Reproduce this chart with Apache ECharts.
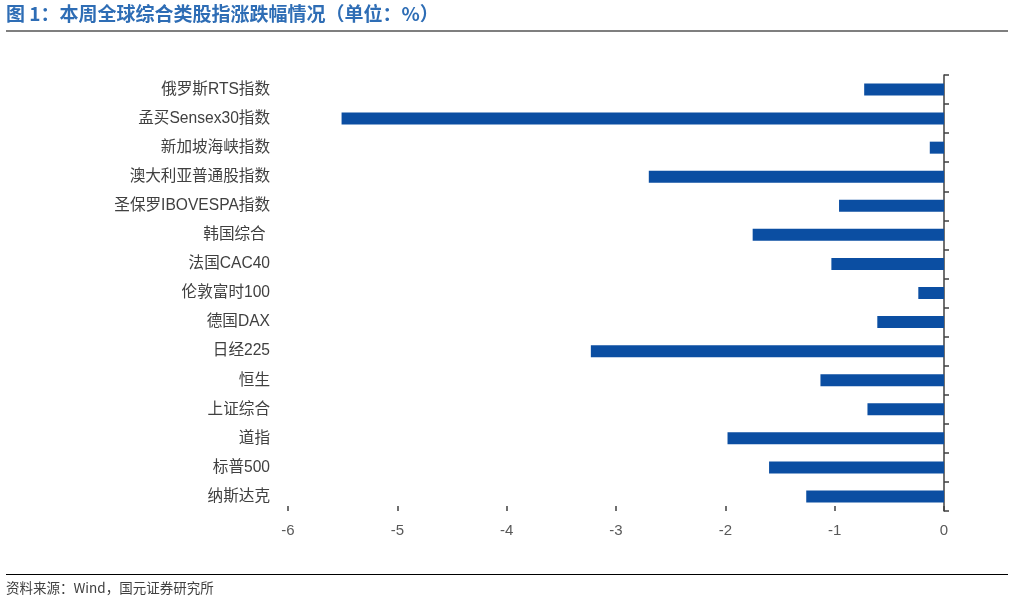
<!DOCTYPE html>
<html><head><meta charset="utf-8">
<script src="https://cdn.jsdelivr.net/npm/echarts@6/dist/echarts.min.js"></script>
<style>html,body{margin:0;padding:0;background:#fff}#c{width:1014px;height:603px}</style>
</head><body><div id="c"></div>
<script>
const categories = ['俄罗斯RTS指数','孟买Sensex30指数','新加坡海峡指数','澳大利亚普通股指数','圣保罗IBOVESPA指数','韩国综合 ','法国CAC40','伦敦富时100','德国DAX','日经225','恒生','上证综合','道指','标普500','纳斯达克'];
const values = [-0.73,-5.51,-0.13,-2.70,-0.96,-1.75,-1.03,-0.235,-0.61,-3.23,-1.13,-0.70,-1.98,-1.60,-1.26];
const xTicks = [-6,-5,-4,-3,-2,-1,0];
const titleText = '图 1：本周全球综合类股指涨跌幅情况（单位：%）';
const sourceText = '资料来源：Wind，国元证券研究所';

const chart = echarts.init(document.getElementById('c'));
const font = '"Liberation Sans", "Noto Sans CJK SC", sans-serif';
chart.setOption({
  animation: false,
  backgroundColor: '#fff',
  grid: {left: 288, right: 70, top: 75, bottom: 92},
  xAxis: {
    type: 'value', min: xTicks[0], max: xTicks[xTicks.length-1], interval: 1,
    axisLine: {onZero: false, lineStyle: {color: '#404040', width: 1.5}},
    axisTick: {show: true, inside: true, length: 5, lineStyle: {color: '#404040', width: 1.5}},
    splitLine: {show: false},
    axisLabel: {color: '#595959', fontSize: 15, fontFamily: font, margin: 12}
  },
  yAxis: [
    {type: 'category', data: categories, inverse: true, position: 'left',
     axisLine: {show: false}, axisTick: {show: false},
     axisLabel: {color: '#404040', fontSize: 15.6, fontFamily: font, margin: 18}},
    {type: 'category', data: categories, inverse: true, position: 'right',
     axisLine: {show: true, onZero: false, lineStyle: {color: '#404040', width: 1.5}},
     axisTick: {show: true, length: 5, lineStyle: {color: '#404040', width: 1.5}},
     axisLabel: {show: false}}
  ],
  series: [{
    type: 'bar', data: values, yAxisIndex: 0, barWidth: 12,
    itemStyle: {color: '#0B4EA2'}
  }],
  graphic: [
    {type: 'text', left: 6, top: 4, style: {text: titleText, fill: '#2E6DB5', font: 'bold 19px "Noto Sans CJK SC", sans-serif'}},
    {type: 'line', shape: {x1: 6, y1: 31, x2: 1008, y2: 31}, style: {stroke: '#000', lineWidth: 1.2}},
    {type: 'line', shape: {x1: 6, y1: 574.5, x2: 1008, y2: 574.5}, style: {stroke: '#000', lineWidth: 1.2}},
    {type: 'text', left: 6, top: 581, style: {text: sourceText, fill: '#404040', font: '13.5px "Noto Sans CJK SC", sans-serif'}}
  ]
});
</script></body></html>
